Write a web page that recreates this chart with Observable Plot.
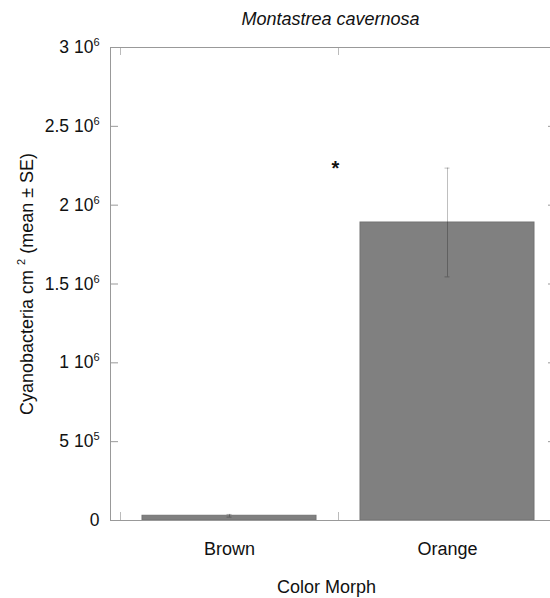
<!DOCTYPE html>
<html>
<head>
<meta charset="utf-8">
<script src="https://cdn.jsdelivr.net/npm/d3@7"></script>
<script src="https://cdn.jsdelivr.net/npm/@observablehq/plot@0.6"></script>
<style>
  html, body { margin: 0; padding: 0; background: white; }
</style>
</head>
<body>
<div id="chart"></div>
<script>
// ---- data ----
const morphs = ["Brown", "Orange"];
const means = [30000, 1890000];
const ses = [8500, 345000];
const yTicks = [0, 500000, 1000000, 1500000, 2000000, 2500000, 3000000];
const yTickLabels = ["0", "5 10^5", "1 10^6", "1.5 10^6", "2 10^6", "2.5 10^6", "3 10^6"];
const title = "Montastrea cavernosa";
const yLabel = "Cyanobacteria cm ^2 (mean \u00b1 SE)";
const xLabel = "Color Morph";
const sigMark = "*";
const sigValue = 2230000;

const data = morphs.map((m, i) => ({morph: m, mean: means[i], se: ses[i]}));

// ---- layout ----
const W = 550, H = 598, ML = 110, MR = -6, MT = 47, MB = 78;
const frameW = W - ML - MR, frameH = H - MT - MB;
const tickLen = 8;
const fontFamily = "'Liberation Sans', Arial, Helvetica, sans-serif";

const chart = Plot.plot({
  width: W, height: H,
  marginLeft: ML, marginRight: MR, marginTop: MT, marginBottom: MB,
  style: {fontFamily, fontSize: "16px", color: "black", background: "white"},
  x: {domain: morphs, paddingInner: 0.2, paddingOuter: 0.1, insetLeft: 10, axis: null},
  y: {domain: [0, 3000000], axis: null},
  marks: [
    Plot.barY(data, {x: "morph", y: "mean", fill: "#808080", stroke: "#727272", strokeWidth: 1}),
    Plot.ruleX(data, {x: "morph", y1: d => d.mean - d.se, y2: d => d.mean + d.se, stroke: "black", strokeOpacity: 0.25, strokeWidth: 1}),
    Plot.tickY(data, {x: "morph", y: d => d.mean - d.se, stroke: "black", strokeOpacity: 0.25, insetLeft: 84.5, insetRight: 84.5}),
    Plot.tickY(data, {x: "morph", y: d => d.mean + d.se, stroke: "black", strokeOpacity: 0.25, insetLeft: 84.5, insetRight: 84.5}),
    // inward ticks
    Plot.ruleY(yTicks, {y: d => d, insetRight: frameW - tickLen, stroke: "#999"}),
    Plot.ruleY(yTicks, {y: d => d, insetLeft: frameW - tickLen, stroke: "#999"}),
    Plot.ruleX(morphs, {x: d => d, dx: -109, insetTop: frameH - tickLen, stroke: "#bbb"}),
    Plot.ruleX(morphs, {x: d => d, dx: -109, insetBottom: frameH - tickLen, stroke: "#bbb"}),
    Plot.frame({stroke: "#999"}),
    // tick labels
    Plot.text(yTicks, {y: d => d, text: (d, i) => yTickLabels[i], frameAnchor: "left", dx: -11, textAnchor: "end", fontSize: 17.5, fill: "#111"}),
    Plot.text(morphs, {x: d => d, text: d => d, frameAnchor: "bottom", dy: 34, fontSize: 18, fill: "#111"}),
    // axis labels and title
    Plot.text([xLabel], {text: d => d, frameAnchor: "bottom", dy: 72, dx: -7, fontSize: 18, fill: "#111"}),
    Plot.text([yLabel], {text: d => d, frameAnchor: "left", textAnchor: "middle", rotate: -90, dx: -83, fontSize: 18, fill: "#111"}),
    Plot.text([title], {text: d => d, frameAnchor: "top", dy: -35, dx: -3, fontSize: 18, fontStyle: "italic", fill: "#111"}),
    // significance mark
    Plot.text([{morph: morphs[1], v: sigValue, t: sigMark}], {x: "morph", y: "v", text: "t", dx: -112, fontSize: 20, fontWeight: "bold", fill: "#111"})
  ]
});

// superscripts: "a^b rest"
chart.querySelectorAll("text").forEach(t => {
  const s = t.textContent;
  const m = s.match(/^(.*?)\^(\S)(.*)$/);
  if (!m) return;
  const ns = "http://www.w3.org/2000/svg";
  const g = t.closest("[font-size]");
  const fs = parseFloat(t.getAttribute("font-size") || (g && g.getAttribute("font-size"))) || 16;
  const shift = Math.round(fs * 0.42);
  t.textContent = m[1];
  const sup = document.createElementNS(ns, "tspan");
  sup.setAttribute("dy", -shift);
  sup.setAttribute("font-size", Math.round(fs * 0.6));
  sup.textContent = m[2];
  t.appendChild(sup);
  if (m[3]) {
    const rest = document.createElementNS(ns, "tspan");
    rest.setAttribute("dy", shift);
    rest.textContent = m[3];
    t.appendChild(rest);
  }
});

document.getElementById("chart").appendChild(chart);
</script>
</body>
</html>
